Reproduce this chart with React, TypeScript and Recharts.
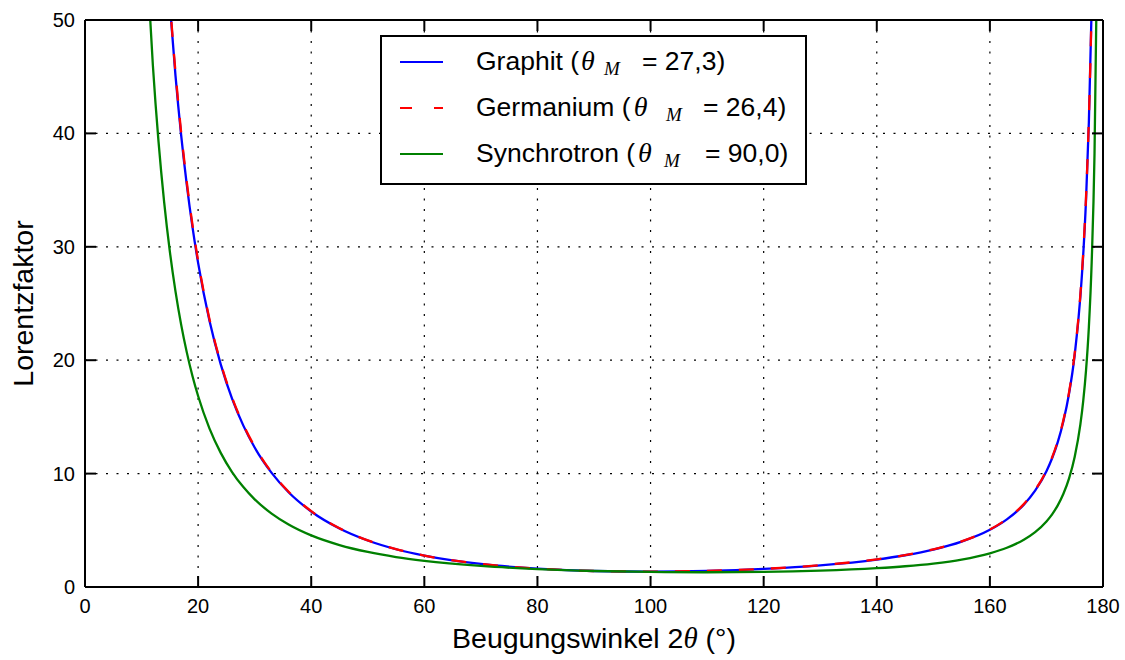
import React from "react";
import {
  LineChart,
  Line,
  XAxis,
  YAxis,
  CartesianGrid,
  Legend,
  Label,
} from "recharts";

// diffraction angle 2θ in degrees
const angles = [
  10, 11, 12, 13, 14, 15, 16, 17, 18, 19, 20, 22, 24, 26, 28, 30, 33, 36, 40,
  45, 50, 55, 60, 70, 80, 90, 100, 110, 120, 130, 140, 145, 150, 155, 160, 163,
  166, 168, 170, 171, 172, 173, 174, 175, 176, 176.5, 177, 177.5, 178, 178.5,
  179,
];

const graphit = [
  116.7, 96.26, 80.77, 68.71, 59.14, 51.41, 45.09, 39.85, 35.47, 31.75, 28.58,
  23.49, 19.63, 16.61, 14.23, 12.3, 10.06, 8.35, 6.66, 5.16, 4.1, 3.33, 2.77,
  2.03, 1.62, 1.41, 1.36, 1.42, 1.6, 1.91, 2.42, 2.8, 3.3, 4.0, 5.04, 5.96,
  7.26, 8.49, 10.21, 11.35, 12.78, 14.62, 17.06, 20.48, 25.62, 29.28, 34.16,
  40.98, 51.26, 68.34, 102.5,
];

const germanium = [
  117.5, 96.93, 81.33, 69.18, 59.54, 51.76, 45.4, 40.12, 35.7, 31.96, 28.77,
  23.64, 19.75, 16.71, 14.31, 12.38, 10.11, 8.4, 6.69, 5.18, 4.11, 3.34, 2.77,
  2.03, 1.62, 1.41, 1.36, 1.42, 1.6, 1.92, 2.44, 2.81, 3.32, 4.02, 5.07, 6.0,
  7.31, 8.55, 10.28, 11.43, 12.87, 14.72, 17.18, 20.63, 25.8, 29.49, 34.4,
  41.27, 51.63, 68.82, 103.2,
];

const synchrotron = [
  66.08, 54.67, 46.01, 39.27, 33.92, 29.6, 26.07, 23.14, 20.69, 18.61, 16.84,
  13.99, 11.83, 10.14, 8.81, 7.73, 6.47, 5.51, 4.55, 3.7, 3.09, 2.64, 2.31,
  1.86, 1.58, 1.41, 1.33, 1.3, 1.33, 1.44, 1.66, 1.83, 2.07, 2.42, 2.97, 3.46,
  4.17, 4.84, 5.78, 6.41, 7.2, 8.22, 9.58, 11.49, 14.34, 16.39, 19.11, 22.92,
  28.66, 38.2, 57.3,
];

const xTicks = [0, 20, 40, 60, 80, 100, 120, 140, 160, 180];
const yTicks = [0, 10, 20, 30, 40, 50];

// legend rows: label text, gap before θ, x positions of the subscript and "=" inside the box
const series = [
  { key: "graphit", name: "Graphit", angle: "27,3", color: "#0000ff", dash: undefined, dxTheta: 2, xM: 224, xEq: 262 },
  { key: "germanium", name: "Germanium", angle: "26,4", color: "#ff0000", dash: "12 22", dxTheta: 3, xM: 286, xEq: 323 },
  { key: "synchrotron", name: "Synchrotron", angle: "90,0", color: "#008000", dash: undefined, dxTheta: 3, xM: 284, xEq: 325 },
];

const data = angles.map((a, i) => ({
  angle: a,
  graphit: graphit[i],
  germanium: germanium[i],
  synchrotron: synchrotron[i],
}));

const SANS = "'Liberation Sans', Arial, Helvetica, sans-serif";
const SERIF = "'Liberation Serif', 'DejaVu Serif', serif";
const TICK_LEN = 11;

const BottomTick = (props: any) => {
  const { x, y, payload } = props;
  return (
    <g>
      <line x1={x} x2={x} y1={y} y2={y - TICK_LEN} stroke="#000" strokeWidth={2} />
      <text x={x} y={y + 26} textAnchor="middle" fontFamily={SANS} fontSize={20} fill="#000">
        {payload.value}
      </text>
    </g>
  );
};

const LeftTick = (props: any) => {
  const { x, y, payload } = props;
  return (
    <g>
      <line x1={x} x2={x + TICK_LEN} y1={y} y2={y} stroke="#000" strokeWidth={2} />
      <text x={x - 10} y={y + 7} textAnchor="end" fontFamily={SANS} fontSize={20} fill="#000">
        {payload.value}
      </text>
    </g>
  );
};

// top and right spines carry inward ticks only
const TopTick = (props: any) => {
  const { x, y } = props;
  return <line x1={x} x2={x} y1={y} y2={y + TICK_LEN} stroke="#000" strokeWidth={2} />;
};

const RightTick = (props: any) => {
  const { x, y } = props;
  return <line x1={x} x2={x - TICK_LEN} y1={y} y2={y} stroke="#000" strokeWidth={2} />;
};

const LegendBox = () => (
  <svg width={427} height={150} style={{ display: "block" }}>
    <rect x={1} y={1} width={425} height={148} fill="#fff" stroke="#000" strokeWidth={2} />
    {series.map((s, i) => {
      const lineY = 27 + i * 46;
      const baseY = 35 + i * 46;
      return (
        <g key={s.key}>
          <line x1={20} x2={63} y1={lineY} y2={lineY} stroke={s.color} strokeWidth={2} strokeDasharray={s.dash} />
          <text x={96} y={baseY} fontFamily={SANS} fontSize={26.5} fill="#000" style={{ whiteSpace: "pre" }}>
            {s.name} (
            <tspan dx={s.dxTheta} fontFamily={SERIF} fontStyle="italic" fontSize={28}>
              θ
            </tspan>
            <tspan x={s.xM} dy={5} fontFamily={SERIF} fontStyle="italic" fontSize={19}>
              M
            </tspan>
            <tspan x={s.xEq} dy={-5}>
              = {s.angle})
            </tspan>
          </text>
        </g>
      );
    })}
  </svg>
);

const XTitle = (props: any) => {
  const { x, y, width } = props.viewBox;
  return (
    <text x={x + width / 2} y={y + 61} textAnchor="middle" fontFamily={SANS} fontSize={28.5} fill="#000">
      Beugungswinkel 2
      <tspan fontFamily={SERIF} fontStyle="italic" fontSize={29}>
        θ
      </tspan>{" "}
      (°)
    </text>
  );
};

const YTitle = (props: any) => {
  const { y, height } = props.viewBox;
  const cy = y + height / 2;
  return (
    <text
      x={33}
      y={cy}
      transform={`rotate(-90, 33, ${cy})`}
      textAnchor="middle"
      fontFamily={SANS}
      fontSize={28.5}
      fill="#000"
    >
      Lorentzfaktor
    </text>
  );
};

export default function App() {
  return (
    <div style={{ position: "absolute", left: 0, top: 0, width: 1125, height: 660, background: "#fff" }}>
      <LineChart
        width={1125}
        height={660}
        data={data}
        margin={{ top: 19, right: 21, bottom: 0, left: 0 }}
      >
        <CartesianGrid
          stroke="#000"
          strokeWidth={1.2}
          strokeDasharray="2 8.5"
          horizontalValues={yTicks}
          verticalValues={xTicks}
        />
        <XAxis
          dataKey="angle"
          type="number"
          domain={[0, 180]}
          ticks={xTicks}
          interval={0}
          allowDataOverflow
          height={73}
          tickSize={0}
          tickMargin={0}
          tickLine={false}
          axisLine={{ stroke: "#000", strokeWidth: 2 }}
          tick={<BottomTick />}
        >
          <Label content={<XTitle />} />
        </XAxis>
        <XAxis
          xAxisId="top"
          orientation="top"
          dataKey="angle"
          type="number"
          domain={[0, 180]}
          ticks={xTicks}
          interval={0}
          allowDataOverflow
          height={1}
          tickSize={0}
          tickMargin={0}
          tickLine={false}
          axisLine={{ stroke: "#000", strokeWidth: 2 }}
          tick={<TopTick />}
        />
        <YAxis
          type="number"
          domain={[0, 50]}
          ticks={yTicks}
          interval={0}
          allowDataOverflow
          width={85}
          tickSize={0}
          tickMargin={0}
          tickLine={false}
          axisLine={{ stroke: "#000", strokeWidth: 2 }}
          tick={<LeftTick />}
        >
          <Label content={<YTitle />} />
        </YAxis>
        <YAxis
          yAxisId="right"
          orientation="right"
          type="number"
          domain={[0, 50]}
          ticks={yTicks}
          interval={0}
          allowDataOverflow
          width={1}
          tickSize={0}
          tickMargin={0}
          tickLine={false}
          axisLine={{ stroke: "#000", strokeWidth: 2 }}
          tick={<RightTick />}
        />
        <Legend
          layout="vertical"
          align="center"
          verticalAlign="middle"
          wrapperStyle={{ left: 380, top: 35, width: 427, height: 150 }}
          content={<LegendBox />}
        />
        {series.map((s) => (
          <Line
            key={s.key}
            type="monotone"
            dataKey={s.key}
            name={s.name}
            stroke={s.color}
            strokeWidth={2.3}
            strokeDasharray={s.key === "germanium" ? "15 17" : undefined}
            dot={false}
            activeDot={false}
            isAnimationActive={false}
          />
        ))}
      </LineChart>
    </div>
  );
}
